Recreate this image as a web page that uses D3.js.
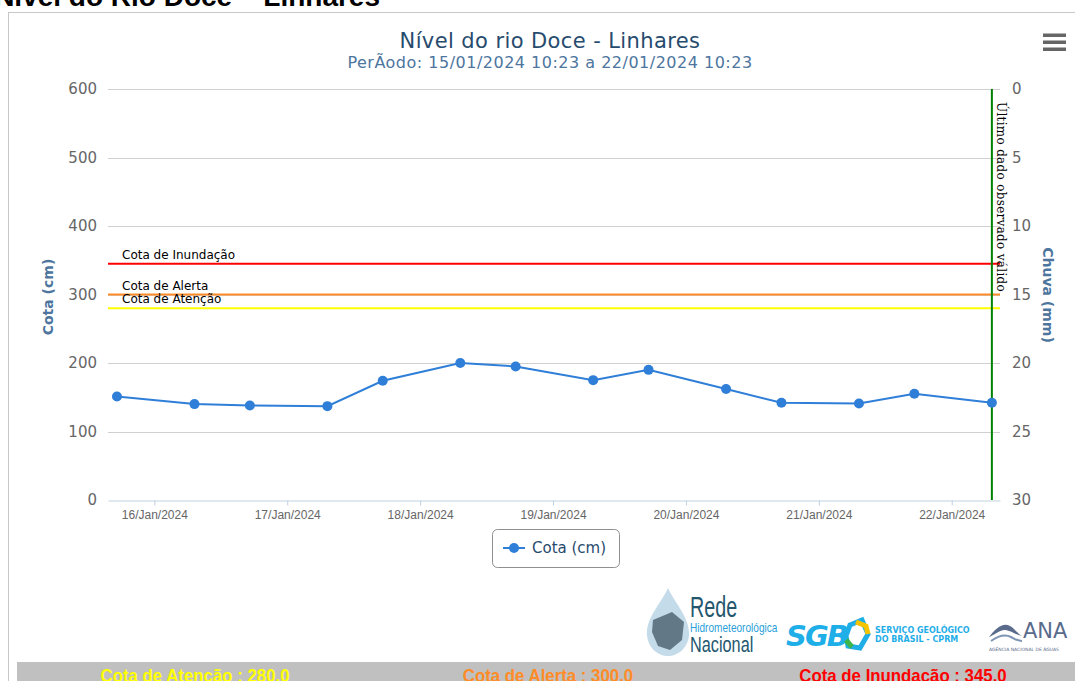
<!DOCTYPE html>
<html>
<head>
<meta charset="utf-8">
<script src="https://cdn.jsdelivr.net/npm/d3@7"></script>
<style>
  body { margin: 0; background: #fff; overflow: hidden; }
  svg { display: block; }
</style>
</head>
<body>
<svg id="chart" width="1075" height="681"></svg>
<script>
// leituras (07:15 e 17:15 de cada dia)
var leituras = [
  [2024, 0, 15, 17, 15], [2024, 0, 16, 7, 15], [2024, 0, 16, 17, 15],
  [2024, 0, 17, 7, 15], [2024, 0, 17, 17, 15], [2024, 0, 18, 7, 15],
  [2024, 0, 18, 17, 15], [2024, 0, 19, 7, 15], [2024, 0, 19, 17, 15],
  [2024, 0, 20, 7, 15], [2024, 0, 20, 17, 15], [2024, 0, 21, 7, 15],
  [2024, 0, 21, 17, 15], [2024, 0, 22, 7, 15]
];
var cota = [151, 140, 138, 137, 174, 200, 195, 175, 190, 162, 142, 141, 155, 142];

var cotaTicks = [0, 100, 200, 300, 400, 500, 600];
var chuvaTicks = [0, 5, 10, 15, 20, 25, 30];
var diasTicks = [16, 17, 18, 19, 20, 21, 22];

var cotasNomes = ["Cota de Inundação", "Cota de Alerta", "Cota de Atenção"];
var cotasValores = [345, 300, 280];
var cotasCores = ["#ff0000", "#ff8c28", "#ffff00"];

var rodapeTextos = ["Cota de Atenção : 280.0", "Cota de Alerta : 300.0", "Cota de Inundação : 345.0"];
var rodapeCores = ["#ffff00", "#ff8c28", "#ff0000"];

var titulo = "Nível do rio Doce - Linhares";
var subtitulo = "PerÃodo: 15/01/2024 10:23 a 22/01/2024 10:23";

var data = leituras.map(function (d, i) {
  return { t: new Date(d[0], d[1], d[2], d[3], d[4]), y: cota[i] };
});

var plotLeft = 108, plotRight = 1000, plotTop = 89, plotBottom = 500;

var svg = d3.select("#chart");

// cabecalho cortado da pagina
svg.append("text")
  .attr("x", 380).attr("y", 6)
  .attr("text-anchor", "end")
  .style("font", "bold 28px 'Liberation Sans', Arial, sans-serif")
  .style("fill", "#000")
  .text("Nível do Rio Doce – Linhares");

// moldura do grafico
svg.append("rect")
  .attr("x", 8.5).attr("y", 12.5)
  .attr("width", 1080).attr("height", 700)
  .attr("fill", "#fff")
  .attr("stroke", "#c8c8c8");

// escalas
var xScale = d3.scaleTime()
  .domain([new Date(2024, 0, 15, 15, 38), new Date(2024, 0, 22, 8, 43)])
  .range([plotLeft, plotRight]);

var yScale = d3.scaleLinear()
  .domain([0, 600])
  .range([plotBottom, plotTop]);

var yChuva = d3.scaleLinear()
  .domain([0, 30])
  .range([plotTop, plotBottom]);

// grade
svg.append("g")
  .selectAll("line")
  .data(cotaTicks.slice(1))
  .enter().append("line")
  .attr("x1", plotLeft).attr("x2", plotRight)
  .attr("y1", function (d) { return Math.round(yScale(d)) + 0.5; })
  .attr("y2", function (d) { return Math.round(yScale(d)) + 0.5; })
  .attr("stroke", "#d0d0d0");

// eixo y esquerdo
var yAxis = svg.append("g")
  .attr("transform", "translate(" + plotLeft + ",0)")
  .call(d3.axisLeft(yScale).tickValues(cotaTicks).tickSize(0).tickPadding(11));
yAxis.select(".domain").remove();
yAxis.selectAll("text")
  .style("font", "15px 'DejaVu Sans', sans-serif")
  .style("fill", "#666");

// eixo y direito (chuva)
var yAxis2 = svg.append("g")
  .attr("transform", "translate(" + plotRight + ",0)")
  .call(d3.axisRight(yChuva).tickValues(chuvaTicks).tickSize(0).tickPadding(12));
yAxis2.select(".domain").remove();
yAxis2.selectAll("text")
  .style("font", "15px 'DejaVu Sans', sans-serif")
  .style("fill", "#666");

// eixo x
var fmt = d3.timeFormat("%d/%b/%Y");
var xAxis = svg.append("g")
  .attr("transform", "translate(0," + (plotBottom + 0.5) + ")")
  .call(d3.axisBottom(xScale)
    .tickValues(diasTicks.map(function (d) { return new Date(2024, 0, d); }))
    .tickFormat(fmt).tickSizeInner(5).tickSizeOuter(0).tickPadding(5));
xAxis.select(".domain").attr("stroke", "#c0d0e0");
xAxis.selectAll(".tick line").attr("stroke", "#c0d0e0");
xAxis.selectAll("text")
  .style("font", "12px 'Liberation Sans', Arial, sans-serif")
  .style("fill", "#666");

// titulos dos eixos
svg.append("text")
  .attr("transform", "translate(53,297) rotate(-90)")
  .attr("text-anchor", "middle")
  .style("font", "bold 14px 'DejaVu Sans', sans-serif")
  .style("fill", "#4d759e")
  .text("Cota (cm)");

svg.append("text")
  .attr("transform", "translate(1043,295) rotate(90)")
  .attr("text-anchor", "middle")
  .style("font", "bold 14px 'DejaVu Sans', sans-serif")
  .style("fill", "#4d759e")
  .text("Chuva (mm)");

// cotas de referencia
cotasValores.forEach(function (v, i) {
  var yy = yScale(v);
  svg.append("line")
    .attr("x1", plotLeft).attr("x2", plotRight)
    .attr("y1", yy).attr("y2", yy)
    .attr("stroke", cotasCores[i])
    .attr("stroke-width", 2);
  svg.append("text")
    .attr("x", 122).attr("y", yy - 5)
    .style("font", "12px 'DejaVu Sans', sans-serif")
    .style("fill", "#000")
    .text(cotasNomes[i]);
});

// ultimo dado observado
var ultimo = data[data.length - 1].t;
svg.append("line")
  .attr("x1", xScale(ultimo)).attr("x2", xScale(ultimo))
  .attr("y1", plotTop).attr("y2", plotBottom)
  .attr("stroke", "#008000")
  .attr("stroke-width", 2);
svg.append("text")
  .attr("transform", "translate(" + (xScale(ultimo) + 5) + ",102) rotate(90)")
  .style("font", "12px 'DejaVu Serif', serif")
  .style("letter-spacing", "0.3px")
  .style("fill", "#000")
  .text("Último dado observado válido");

// serie
var line = d3.line()
  .x(function (d) { return xScale(d.t); })
  .y(function (d) { return yScale(d.y); });

svg.append("path")
  .datum(data)
  .attr("d", line)
  .attr("fill", "none")
  .attr("stroke", "#2f7ed8")
  .attr("stroke-width", 2);

svg.append("g")
  .selectAll("circle")
  .data(data)
  .enter().append("circle")
  .attr("cx", function (d) { return xScale(d.t); })
  .attr("cy", function (d) { return yScale(d.y); })
  .attr("r", 5)
  .attr("fill", "#2f7ed8");

// titulo
svg.append("text")
  .attr("x", 550).attr("y", 48)
  .attr("text-anchor", "middle")
  .style("font", "21px 'DejaVu Sans', sans-serif")
  .style("letter-spacing", "0.4px")
  .style("fill", "#274b6d")
  .text(titulo);
svg.append("text")
  .attr("x", 550).attr("y", 68)
  .attr("text-anchor", "middle")
  .style("font", "16px 'DejaVu Sans', sans-serif")
  .style("letter-spacing", "0.5px")
  .style("fill", "#4d759e")
  .text(subtitulo);

// menu
[35, 42, 49].forEach(function (yy) {
  svg.append("rect")
    .attr("x", 1043).attr("y", yy - 1.5)
    .attr("width", 23).attr("height", 3.5)
    .attr("fill", "#666");
});

// legenda
svg.append("rect")
  .attr("x", 492.5).attr("y", 529.5)
  .attr("width", 127).attr("height", 38)
  .attr("rx", 5)
  .attr("fill", "#fff")
  .attr("stroke", "#909090");
svg.append("line")
  .attr("x1", 503).attr("x2", 525)
  .attr("y1", 548).attr("y2", 548)
  .attr("stroke", "#2f7ed8").attr("stroke-width", 2);
svg.append("circle")
  .attr("cx", 514).attr("cy", 548).attr("r", 5)
  .attr("fill", "#2f7ed8");
svg.append("text")
  .attr("x", 532).attr("y", 553)
  .style("font", "15px 'DejaVu Sans', sans-serif")
  .style("fill", "#274b6d")
  .text("Cota (cm)");

// logotipos (aproximados)
var logos = svg.append("g");
logos.append("path")
  .attr("d", "M668,588 C660,605 646,618 647,635 C648,648 658,656 668,656 C678,656 688,648 689,635 C690,618 676,605 668,588 Z")
  .attr("fill", "#9cc3dc").attr("opacity", 0.6);
logos.append("path")
  .attr("d", "M653,620 L672,612 L684,622 L682,640 L670,650 L658,646 L652,632 Z")
  .attr("fill", "#4a5f6e").attr("opacity", 0.8);
logos.append("text")
  .attr("transform", "translate(690,617) scale(0.68,1)")
  .style("font", "29px 'Liberation Sans', sans-serif")
  .style("fill", "#24566e").text("Rede");
logos.append("text")
  .attr("transform", "translate(690,632) scale(0.84,1)")
  .style("font", "12px 'Liberation Sans', sans-serif")
  .style("fill", "#2aa0d8").text("Hidrometeorológica");
logos.append("text")
  .attr("transform", "translate(690,652) scale(0.74,1)")
  .style("font", "22px 'Liberation Sans', sans-serif")
  .style("fill", "#24566e").text("Nacional");

logos.append("text").attr("x", 786).attr("y", 646)
  .style("font", "italic 900 29px 'DejaVu Sans', sans-serif")
  .style("letter-spacing", "-2px")
  .style("fill", "#1eaee8").text("SGB");
logos.append("path")
  .attr("d", "M850,625 L862,620 L868,634 L860,648 L848,646 L846,636 Z")
  .attr("fill", "none").attr("stroke", "#1eaee8").attr("stroke-width", 5);
logos.append("path")
  .attr("d", "M856,622 L866,626 L868,634")
  .attr("fill", "none").attr("stroke", "#f5c400").attr("stroke-width", 5);
logos.append("path")
  .attr("d", "M846,640 L852,647")
  .attr("fill", "none").attr("stroke", "#3cb54a").attr("stroke-width", 5);
logos.append("text").attr("x", 875).attr("y", 633)
  .style("font", "bold 8px 'DejaVu Sans', sans-serif")
  .style("fill", "#1eaee8").text("SERVIÇO GEOLÓGICO");
logos.append("text").attr("x", 875).attr("y", 642)
  .style("font", "bold 8px 'DejaVu Sans', sans-serif")
  .style("fill", "#1eaee8").text("DO BRASIL - CPRM");

logos.append("path")
  .attr("d", "M989,637 C996,628 1003,622 1010,626 C1014,628 1017,633 1022,636 C1014,634 1010,630 1004,630 C998,631 994,635 989,637 Z")
  .attr("fill", "#5a6b8c");
logos.append("path")
  .attr("d", "M991,641 C998,636 1005,634 1011,637 C1015,639 1018,641 1022,641")
  .attr("fill", "none").attr("stroke", "#7d94b5").attr("stroke-width", 2);
logos.append("text").attr("x", 1023).attr("y", 638)
  .style("font", "21px 'DejaVu Sans', sans-serif")
  .style("fill", "#5a6b8c").text("ANA");
logos.append("text").attr("x", 989).attr("y", 651)
  .style("font", "4.5px 'DejaVu Sans', sans-serif")
  .style("fill", "#5a6b8c").text("AGÊNCIA NACIONAL DE ÁGUAS");

// rodape com as cotas
svg.append("rect")
  .attr("x", 17).attr("y", 662)
  .attr("width", 1058).attr("height", 19)
  .attr("fill", "#c0c0c0");
var rodapeX = [195, 548, 903];
rodapeTextos.forEach(function (t, i) {
  svg.append("text")
    .attr("transform", "translate(" + rodapeX[i] + ",682) scale(0.99,1.1)")
    .attr("text-anchor", "middle")
    .style("font", "bold 17px 'Liberation Sans', sans-serif")
    .style("fill", rodapeCores[i])
    .text(t);
});
</script>
</body>
</html>
